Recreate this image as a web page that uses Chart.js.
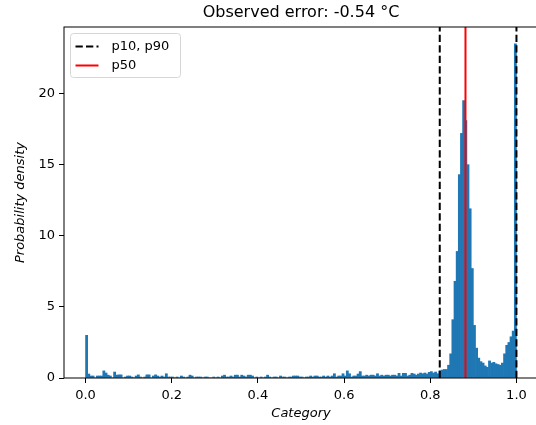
<!DOCTYPE html>
<html lang="en">
<head>
<meta charset="UTF-8">
<title>Observed error histogram</title>
<script src="https://cdn.jsdelivr.net/npm/chart.js"></script>
<style>
  html, body { margin: 0; padding: 0; overflow: hidden; background: #fff; }
</style>
</head>
<body>
<canvas id="histChart" width="540" height="425"></canvas>
<script>
// histogram bins, width 0.005 from 0 to 1 (density values)
const binWidth = 0.005;
const density00 = [3.0, 0.28, 0.14, 0.14, 0.0, 0.14, 0.14, 0.14, 0.5, 0.35,
                   0.2, 0.14, 0.0, 0.42, 0.2, 0.22, 0.22, 0.0, 0.07, 0.14,
                   0.14, 0.07, 0.0, 0.14, 0.22, 0.07, 0.0, 0.07, 0.22, 0.22,
                   0.0, 0.14, 0.22, 0.14, 0.07, 0.14, 0.07, 0.3, 0.07, 0.07];
const density20 = [0.07, 0.0, 0.07, 0.0, 0.14, 0.07, 0.0, 0.07, 0.2, 0.14,
                   0.0, 0.07, 0.07, 0.07, 0.0, 0.07, 0.07, 0.0, 0.0, 0.07,
                   0.0, 0.07, 0.0, 0.14, 0.2, 0.07, 0.07, 0.14, 0.07, 0.2,
                   0.2, 0.07, 0.2, 0.14, 0.07, 0.2, 0.2, 0.14, 0.0, 0.07];
const density40 = [0.0, 0.07, 0.0, 0.07, 0.2, 0.07, 0.0, 0.07, 0.07, 0.0,
                   0.14, 0.07, 0.07, 0.0, 0.07, 0.07, 0.14, 0.14, 0.14, 0.07,
                   0.07, 0.0, 0.07, 0.07, 0.14, 0.07, 0.14, 0.14, 0.07, 0.07,
                   0.14, 0.07, 0.14, 0.07, 0.14, 0.3, 0.07, 0.14, 0.14, 0.3];
const density60 = [0.14, 0.5, 0.3, 0.07, 0.14, 0.14, 0.28, 0.45, 0.14, 0.14,
                   0.2, 0.14, 0.2, 0.2, 0.14, 0.3, 0.14, 0.2, 0.14, 0.2,
                   0.2, 0.14, 0.2, 0.2, 0.14, 0.33, 0.14, 0.33, 0.33, 0.14,
                   0.2, 0.33, 0.28, 0.2, 0.28, 0.35, 0.3, 0.35, 0.28, 0.4];
const density80 = [0.45, 0.35, 0.42, 0.3, 0.5, 0.56, 0.6, 0.6, 0.9, 1.7,
                   4.1, 6.8, 8.9, 14.3, 17.2, 19.5, 18.1, 15.0, 11.9, 7.7,
                   3.7, 2.1, 1.4, 1.15, 1.05, 0.85, 0.75, 1.2, 1.05, 1.1,
                   1.0, 0.95, 0.9, 1.05, 1.7, 2.3, 2.5, 2.9, 3.3, 23.5];
const density = [].concat(density00, density20, density40, density60, density80);
const binCenters = density.map((_, i) => (i + 0.5) * binWidth);

const p10 = 0.822, p50 = 0.8817, p90 = 1.0;
const xTicks = [0, 0.2, 0.4, 0.6, 0.8, 1.0];
const yTicks = [0, 5, 10, 15, 20];
const xRange = [-0.05, 1.05];
const yRange = [0, 24.68];

Chart.defaults.font.family = 'DejaVu Sans';
Chart.defaults.color = '#000';

function vline(x) {
    return [{x: x, y: yRange[0]}, {x: x, y: yRange[1]}];
}

// spines on all four sides plus a matplotlib style legend inside the axes
const framePlugin = {
    id: 'frame',
    afterDraw(chart) {
        const {ctx, chartArea: a} = chart;
        ctx.save();
        ctx.strokeStyle = '#000';
        ctx.lineWidth = 1;
        ctx.strokeRect(a.left, a.top, a.right - a.left, a.bottom - a.top);

        const items = chart.data.datasets.filter(d => d.label);
        const bx = a.left + 6.5, by = a.top + 6.5, bw = 110, bh = 44;
        ctx.beginPath();
        ctx.roundRect(bx, by, bw, bh, 3);
        ctx.fillStyle = 'rgba(255,255,255,0.8)';
        ctx.fill();
        ctx.strokeStyle = '#d6d6d6';
        ctx.stroke();

        ctx.font = '13px "DejaVu Sans"';
        ctx.textBaseline = 'middle';
        ctx.textAlign = 'left';
        items.forEach((d, i) => {
            const y = by + 13 + i * 19;
            ctx.beginPath();
            ctx.setLineDash(d.borderDash || []);
            ctx.strokeStyle = d.borderColor;
            ctx.lineWidth = d.borderWidth;
            ctx.moveTo(bx + 5, y);
            ctx.lineTo(bx + 28, y);
            ctx.stroke();
            ctx.setLineDash([]);
            ctx.fillStyle = '#000';
            ctx.fillText(d.label, bx + 41, y);
        });
        ctx.restore();
    }
};

new Chart(document.getElementById('histChart'), {
    type: 'bar',
    data: {
        datasets: [{
            type: 'line',
            label: 'p10, p90',
            data: vline(p10),
            borderColor: '#000',
            borderWidth: 2,
            borderDash: [7.3, 3.2],
            pointRadius: 0
        }, {
            type: 'line',
            data: vline(p90),
            borderColor: '#000',
            borderWidth: 2,
            borderDash: [7.3, 3.2],
            pointRadius: 0
        }, {
            type: 'line',
            label: 'p50',
            data: vline(p50),
            borderColor: '#ff0000',
            borderWidth: 2,
            pointRadius: 0
        }, {
            type: 'bar',
            data: binCenters.map((x, i) => ({x: x, y: density[i]})),
            backgroundColor: '#1f77b4',
            borderWidth: 0,
            barPercentage: 1,
            categoryPercentage: 1
        }]
    },
    options: {
        responsive: false,
        animation: false,
        layout: { padding: { right: 2 } },
        plugins: {
            legend: { display: false },
            tooltip: { enabled: false },
            title: {
                display: true,
                text: 'Observed error: -0.54 \u00b0C',
                fullSize: false,
                font: { size: 16, weight: 'normal' },
                padding: { top: 3.5, bottom: 4.3 }
            }
        },
        scales: {
            x: {
                type: 'linear',
                min: xRange[0],
                max: xRange[1],
                offset: false,
                afterBuildTicks: s => { s.ticks = xTicks.map(v => ({value: v})); },
                afterFit: s => { s.height = 47; },
                grid: { offset: false, drawOnChartArea: false, tickLength: 5, tickColor: '#000' },
                border: { display: false },
                ticks: { font: { size: 13 }, padding: 5, callback: v => v.toFixed(1) },
                title: { display: true, text: 'Category', font: { size: 13, style: 'italic' }, padding: { top: 7 } }
            },
            y: {
                min: yRange[0],
                max: yRange[1],
                afterBuildTicks: s => { s.ticks = yTicks.map(v => ({value: v})); },
                afterFit: s => { s.width = 64; },
                grid: { drawOnChartArea: false, tickLength: 5, tickColor: '#000' },
                border: { display: false },
                ticks: { font: { size: 13 }, padding: 4 },
                title: { display: true, text: 'Probability density', font: { size: 13, style: 'italic' }, padding: { top: 13 } }
            }
        }
    },
    plugins: [framePlugin]
});
</script>
</body>
</html>
